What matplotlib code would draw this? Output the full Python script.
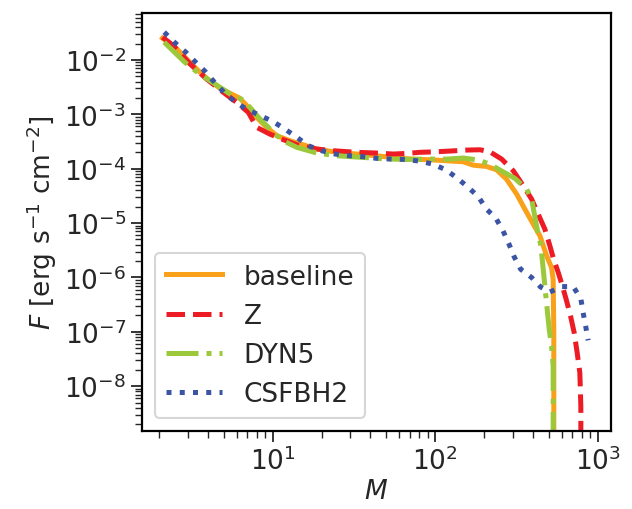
import numpy as np
import matplotlib
matplotlib.use("Agg")
import matplotlib.pyplot as plt
from matplotlib.ticker import LogLocator, NullFormatter

# values
m_base = [2.10, 2.57, 3.24, 3.92, 4.74, 5.46, 6.29, 7.08, 7.97, 9.19, 10.6, 12.8, 15.4, 18.7,
          24.8, 32.9, 43.6, 58.0, 73.3, 92.9, 118, 149, 172, 207, 239, 275, 318, 357, 402,
          442, 486, 521, 533, 538, 538]
f_base = [2.51e-2, 1.60e-2, 7.85e-3, 4.60e-3, 3.01e-3, 2.44e-3, 1.97e-3, 1.35e-3, 8.81e-4,
          5.77e-4, 4.04e-4, 3.27e-4, 2.75e-4, 2.30e-4, 2.00e-4, 1.86e-4, 1.73e-4, 1.57e-4,
          1.50e-4, 1.46e-4, 1.40e-4, 1.34e-4, 1.16e-4, 1.10e-4, 9.55e-5, 6.43e-5, 3.40e-5,
          1.80e-5, 9.55e-6, 5.81e-6, 2.49e-6, 1.52e-6, 9.27e-7, 9.8e-8, 1e-12]

m_z = [2.10, 2.45, 3.10, 3.92, 4.97, 6.00, 7.08, 7.97, 9.6, 11.1, 14.1, 18.7, 23.6, 32.9,
       43.6, 55.2, 66.8, 80.6, 102, 123, 156, 189, 217, 257, 303, 349, 393, 431, 474, 509,
       533, 573, 609, 645, 682, 718, 749, 778, 789, 792]
f_z = [2.62e-2, 1.83e-2, 8.44e-3, 4.47e-3, 2.54e-3, 1.66e-3, 1.09e-3, 5.77e-4, 4.34e-4,
       3.61e-4, 2.75e-4, 2.30e-4, 2.14e-4, 2.00e-4, 1.94e-4, 1.86e-4, 1.91e-4, 2.00e-4,
       2.05e-4, 2.11e-4, 2.20e-4, 2.23e-4, 2.05e-4, 1.50e-4, 9.15e-5, 4.84e-5, 2.75e-5,
       1.46e-5, 7.72e-6, 3.80e-6, 2.32e-6, 1.23e-6, 6.79e-7, 3.69e-7, 1.95e-7, 9.66e-8,
       4.14e-8, 1.77e-8, 4.3e-9, 1e-12]

m_dyn = [2.15, 2.88, 3.40, 4.11, 4.74, 5.46, 6.59, 7.25, 8.36, 10.1, 11.6, 14.1, 18.7, 24.8,
         36.1, 43.6, 54.0, 66.0, 80.0, 96.5, 118, 149, 180, 217, 262, 310, 366, 393, 421,
         448, 463, 474, 492, 504, 521, 533, 533]
f_dyn = [2.12e-2, 9.07e-3, 6.10e-3, 4.16e-3, 3.14e-3, 2.37e-3, 1.83e-3, 1.34e-3, 8.18e-4,
         4.66e-4, 3.27e-4, 2.47e-4, 1.94e-4, 1.73e-4, 1.61e-4, 1.55e-4, 1.50e-4, 1.48e-4,
         1.49e-4, 1.50e-4, 1.50e-4, 1.57e-4, 1.46e-4, 1.22e-4, 8.77e-5, 6.63e-5, 4.21e-5,
         2.75e-5, 8.88e-6, 3.80e-6, 1.42e-6, 6.97e-7, 2.26e-7, 1.11e-7, 5.48e-8, 2.35e-8, 1e-12]

m_csf = [2.15, 2.51, 2.92, 3.36, 3.89, 4.42, 5.08, 5.94, 6.98, 8.43, 10.1, 11.9, 14.1, 16.6,
         20.0, 24.2, 29.6, 36.1, 43.6, 54.0, 65.8, 79.8, 96.5, 116.5, 137.5, 160, 184, 207.5,
         237, 262, 284, 307, 336, 393, 446, 509, 605, 708, 789, 815, 847, 875]
f_csf = [3.24e-2, 2.06e-2, 1.39e-2, 9.07e-3, 5.93e-3, 3.77e-3, 2.44e-3, 1.66e-3, 1.22e-3,
         9.43e-4, 7.30e-4, 5.36e-4, 3.77e-4, 2.64e-4, 2.14e-4, 1.86e-4, 1.73e-4, 1.66e-4,
         1.55e-4, 1.50e-4, 1.48e-4, 1.38e-4, 1.22e-4, 9.55e-5, 6.63e-5, 4.53e-5, 3.09e-5,
         1.80e-5, 1.22e-5, 7.18e-6, 4.21e-6, 2.39e-6, 1.42e-6, 9.96e-7, 6.68e-7, 5.41e-7,
         6.79e-7, 6.79e-7, 4.08e-7, 2.25e-7, 1.22e-7, 6.97e-8]

labels = ["baseline", "Z", "DYN5", "CSFBH2"]
colors = ["#f9a11b", "#ed1c24", "#9bc93b", "#3b54a4"]

ink = "#262626"
fs = 19
plt.rcParams["font.family"] = ["DejaVu Sans"]
plt.rcParams["font.size"] = fs
plt.rcParams["text.color"] = ink
plt.rcParams["axes.labelcolor"] = ink
plt.rcParams["xtick.color"] = ink
plt.rcParams["ytick.color"] = ink

fig = plt.figure(figsize=(6.32, 5.1), dpi=100)
ax = fig.add_axes([142 / 632, 1 - 432 / 510, 469 / 632, 418 / 510])

lw = 3.6
ax.plot(m_base, f_base, color=colors[0], lw=lw, ls="-", label=labels[0])
ax.plot(m_z, f_z, color=colors[1], lw=lw, ls="--", label=labels[1])
ax.plot(m_dyn, f_dyn, color=colors[2], lw=lw, ls="-.", label=labels[2])
ax.plot(m_csf, f_csf, color=colors[3], lw=lw, ls=":", label=labels[3])

ax.set_xscale("log")
ax.set_yscale("log")
ax.set_xlim(1.57, 1210)
ax.set_ylim(1.5e-9, 7.3e-2)

ax.yaxis.set_major_locator(LogLocator(base=10, numticks=30))
ax.yaxis.set_minor_locator(LogLocator(base=10, subs=np.arange(2, 10), numticks=100))
ax.yaxis.set_minor_formatter(NullFormatter())
ax.xaxis.set_minor_locator(LogLocator(base=10, subs=np.arange(2, 10), numticks=100))
ax.xaxis.set_minor_formatter(NullFormatter())

ax.tick_params(which="major", direction="out", length=8, width=1.3, labelsize=fs)
ax.tick_params(which="minor", direction="out", length=5, width=1.0)
for s in ax.spines.values():
    s.set_linewidth(1.6)
    s.set_color("black")

ax.set_xlabel("$M$", fontsize=fs, labelpad=2)
ax.set_ylabel("$F$ [erg s$^{-1}$ cm$^{-2}$]", fontsize=fs)

leg = ax.legend(loc="lower left", fontsize=fs, frameon=True, fancybox=True,
                borderaxespad=0.5, handlelength=2.15)
leg.get_frame().set_edgecolor("0.8")
leg.get_frame().set_linewidth(1.5)

fig.savefig("out.png", dpi=100)
